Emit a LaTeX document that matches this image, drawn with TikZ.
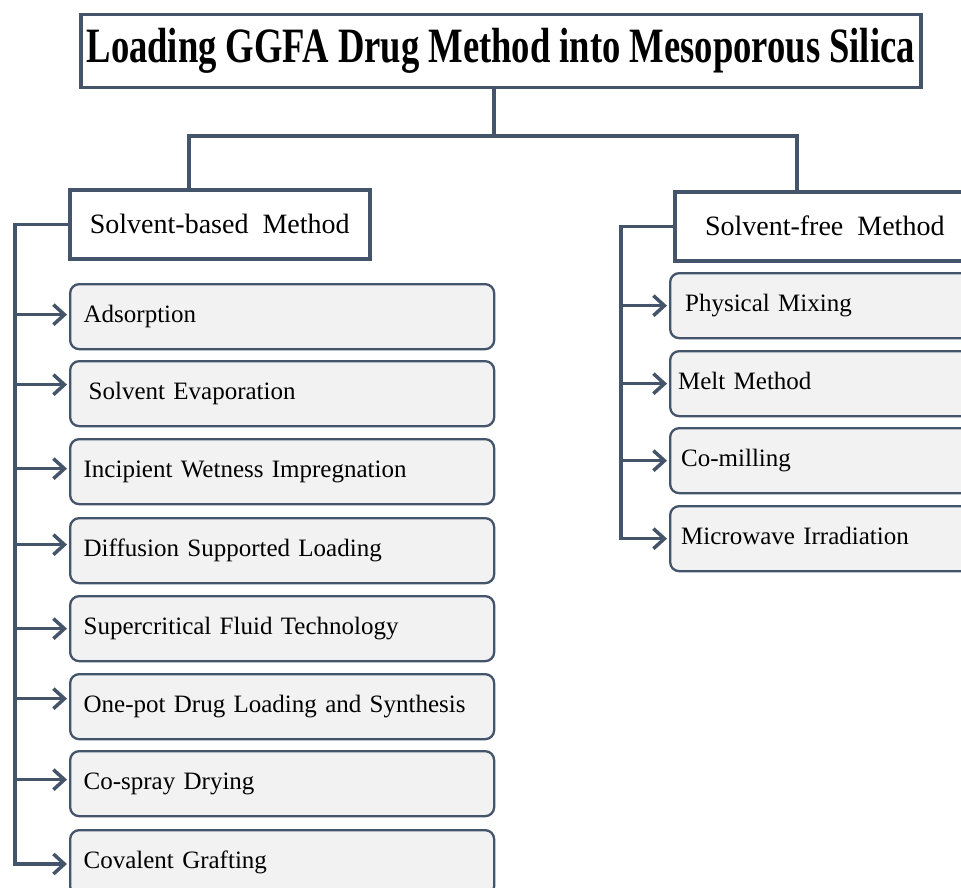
\documentclass[tikz,border=0pt]{standalone}
\usepackage{fontspec}
\usepackage{graphicx}
\setmainfont{Liberation Serif}
\usetikzlibrary{arrows.meta}
\definecolor{ln}{HTML}{44546A}
\definecolor{bx}{HTML}{F2F2F2}
\begin{document}
\begin{tikzpicture}[x=1pt,y=-1pt,
  conn/.style={draw=ln,line width=3.5pt},
  arr/.style={conn,-{Straight Barb[length=11pt,width=20pt,line width=3.5pt]},shorten >=2pt},
  head/.style={draw=ln,fill=white,line width=3.5pt,anchor=north west,minimum width=300pt,minimum height=69pt,inner sep=0pt,font=\fontsize{28}{34}\selectfont},
  item/.style={draw=ln,fill=bx,line width=2.3pt,rounded corners=9pt,anchor=north west,minimum width=424pt,minimum height=65pt,text width=397pt,inner xsep=13.5pt,inner ysep=0pt,align=left,font=\fontsize{25}{30}\selectfont},
  ritem/.style={item,minimum width=330pt,text width=308pt,inner xsep=11pt}
]
\useasboundingbox (0,0) rectangle (961,888);
\clip (0,0) rectangle (961,888);
\fill[white] (0,0) rectangle (961,888);

% title
\node[draw=ln,line width=3.5pt,fill=white,anchor=north west,minimum width=840pt,minimum height=73pt,inner sep=0pt] (title) at (79,13)
  {\scalebox{1}[1.35]{\fontsize{36.6}{40}\selectfont\bfseries Loading GGFA Drug Method into Mesoporous Silica}};

% headers
\node[head] (sb) at (68,188) {Solvent-based\ \ Method};
\node[head] (sf) at (673,190) {Solvent-free\ \ Method};

% left items
\node[item] (a1) at (69,283) {\strut Adsorption};
\node[item] (a2) at (69,360) {\strut\hspace*{5pt}Solvent Evaporation};
\node[item] (a3) at (69,438) {\strut Incipient Wetness Impregnation};
\node[item] (a4) at (69,517) {\strut Diffusion Supported Loading};
\node[item] (a5) at (69,595) {\strut Supercritical Fluid Technology};
\node[item] (a6) at (69,673) {\strut One-pot Drug Loading and Synthesis};
\node[item] (a7) at (69,750) {\strut Co-spray Drying};
\node[item] (a8) at (69,829) {\strut Covalent Grafting};

% right items
\node[ritem] (b1) at (669,272) {\strut\hspace*{4pt}Physical Mixing};
\node[ritem] (b2) at (669,350) {\strut\hspace*{-3pt}Melt Method};
\node[ritem] (b3) at (669,427) {\strut Co-milling};
\node[ritem] (b4) at (669,505) {\strut Microwave Irradiation};

% tree connectors
\coordinate (j) at (494,136);
\coordinate (lj) at (189,136);
\coordinate (rj) at (797,136);
\draw[conn] (title.south -| j) -- (j);
\draw[conn] (sb.north -| lj) -- (lj) -- (rj) -- (sf.north -| rj);

% left spine
\coordinate (ls) at (15,222);
\coordinate (lb) at (15,864);
\draw[arr] (sb.west) -| (lb) -- (lb -| a8.west);
\foreach \n/\d in {a1/2,a2/9,a3/3,a4/6,a5/0,a6/8,a7/4}{
  \path ([yshift=\d pt]\n.west) coordinate (t\n);
  \draw[arr] (t\n -| ls) -- (t\n);
}

% right spine
\coordinate (rs) at (621,222);
\draw[arr] (sf.west) -| (rs |- b4.west) -- (b4.west);
\foreach \n in {b1,b2,b3}{
  \draw[arr] (\n.west -| rs) -- (\n.west);
}
\end{tikzpicture}
\end{document}
